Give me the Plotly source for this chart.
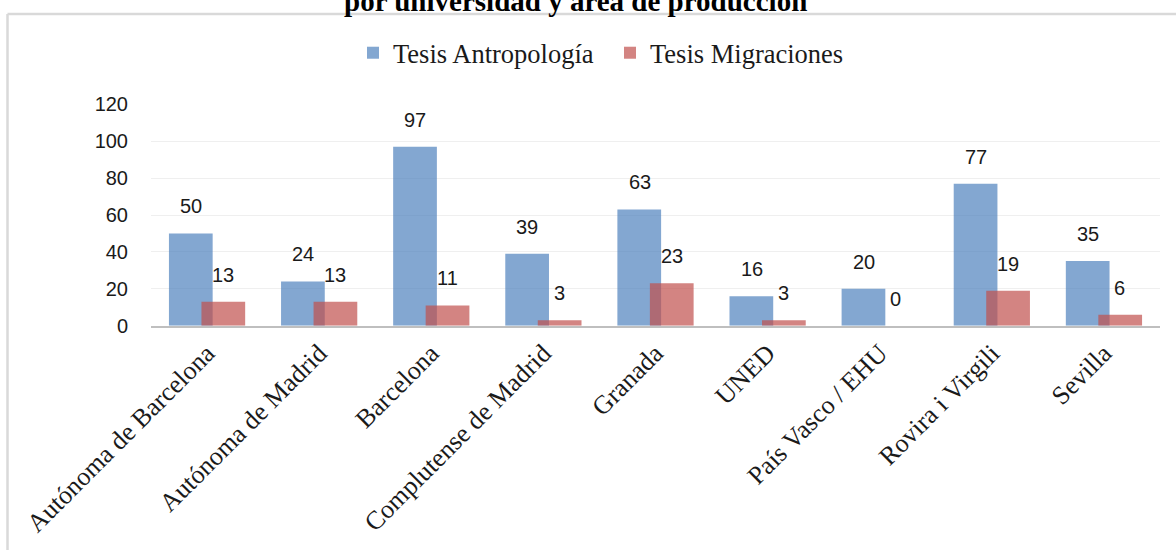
import plotly.graph_objects as go

categories = ["Autónoma de Barcelona", "Autónoma de Madrid", "Barcelona",
              "Complutense de Madrid", "Granada", "UNED", "País Vasco / EHU",
              "Rovira i Virgili", "Sevilla"]
antropologia = [50, 24, 97, 39, 63, 16, 20, 77, 35]
migraciones = [13, 13, 11, 3, 23, 3, 0, 19, 6]
y_ticks = [0, 20, 40, 60, 80, 100, 120]
title_text = "por universidad y área de producción"

W, H = 1176, 550
BLUE = "rgba(79,129,189,0.70)"
RED = "rgba(192,80,77,0.70)"
SERIF = "Liberation Serif"
SANS = "Liberation Sans"

fig = go.Figure()
fig.add_trace(go.Bar(x=categories, y=antropologia, name="Tesis Antropología",
                     marker=dict(color=BLUE, line=dict(width=0)),
                     width=0.39, offset=-0.34))
fig.add_trace(go.Bar(x=categories, y=migraciones, name="Tesis Migraciones",
                     marker=dict(color=RED, line=dict(width=0)),
                     width=0.39, offset=-0.05))

annotations = []
for c, v in zip(categories, antropologia):
    annotations.append(dict(x=c, y=v, xref="x", yref="y", text=str(v), showarrow=False,
                            xshift=-16, yshift=27, yanchor="middle",
                            font=dict(family=SANS, size=20, color="#1a1a1a")))
for c, v in zip(categories, migraciones):
    annotations.append(dict(x=c, y=v, xref="x", yref="y", text=str(v), showarrow=False,
                            xshift=16, yshift=27, yanchor="middle",
                            font=dict(family=SANS, size=20, color="#1a1a1a")))
annotations.append(dict(x=575 / W, y=1 - 1 / H, xref="paper", yref="paper",
                        text="<b>" + title_text + "</b>", showarrow=False,
                        xanchor="center", yanchor="middle",
                        font=dict(family=SERIF, size=29, color="black")))

shapes = [
    dict(type="line", xref="paper", yref="paper", x0=7.5 / W, x1=1.0,
         y0=1 - 14 / H, y1=1 - 14 / H, line=dict(color="#d9d9d9", width=2.5)),
    dict(type="line", xref="paper", yref="paper", x0=7.5 / W, x1=7.5 / W,
         y0=0, y1=1 - 14 / H, line=dict(color="#d9d9d9", width=2.5)),
]

fig.update_layout(
    width=W, height=H,
    margin=dict(l=0, r=0, t=0, b=0, autoexpand=False),
    paper_bgcolor="white", plot_bgcolor="white",
    barmode="overlay",
    showlegend=True,
    legend=dict(orientation="h", x=610 / W, xanchor="center", y=1 - 53 / H, yanchor="middle",
                font=dict(family=SERIF, size=26.5, color="#1a1a1a"),
                itemwidth=30, traceorder="normal", entrywidth=212),
    xaxis=dict(domain=[151 / W, 1160 / W], type="category", range=[-0.5, 8.5],
               tickangle=-45, tickfont=dict(family=SERIF, size=26, color="#1a1a1a"),
               showgrid=False, showline=True, linecolor="#bfbfbf", linewidth=2,
               ticks="", automargin=False),
    yaxis=dict(domain=[1 - 325.7 / H, 1 - 104.3 / H], range=[0, 120],
               tickvals=y_ticks, ticktext=[str(t) for t in y_ticks],
               tickfont=dict(family=SANS, size=20, color="#1a1a1a"),
               showgrid=True, gridcolor="#efefef", gridwidth=1,
               zeroline=False, showline=False, ticks="", ticklabelstandoff=22,
               automargin=False),
    annotations=annotations,
    shapes=shapes,
)

fig.write_html("out.html", config={"displayModeBar": False},
               post_script="document.body.style.margin='0';document.body.style.padding='0';")
